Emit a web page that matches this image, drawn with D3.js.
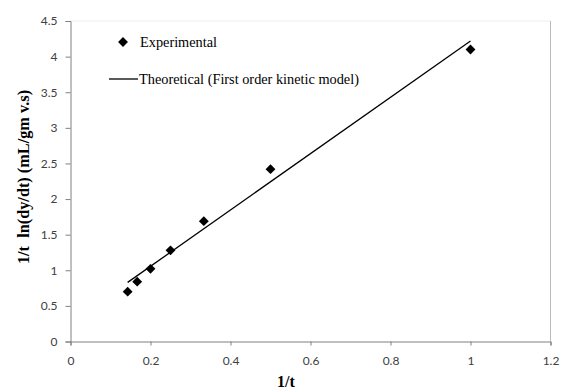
<!DOCTYPE html>
<html><head><meta charset="utf-8">
<script src="https://cdn.jsdelivr.net/npm/d3@7"></script>
<style>body{margin:0;background:#fff}</style>
</head><body>
<svg id="c" width="561" height="389"></svg>
<script>
const invT = [0.1429, 0.1667, 0.2, 0.25, 0.3333, 0.5, 1.0];
const expVals = [0.70, 0.84, 1.02, 1.28, 1.69, 2.42, 4.10];
const theoX = [0.1429, 1.0];
const theoY = [0.83, 4.22];
const xTicks = [0, 0.2, 0.4, 0.6, 0.8, 1, 1.2];
const yTicks = [0, 0.5, 1, 1.5, 2, 2.5, 3, 3.5, 4, 4.5];
const legendLabels = ["Experimental", "Theoretical (First order kinetic model)"];

const svg = d3.select("#c");
const L = 70.5, R = 550.5, T = 21, B = 341.5;
const x = d3.scaleLinear().domain([0, 1.2]).range([L, R]);
const y = d3.scaleLinear().domain([0, 4.5]).range([B, T]);

// frame
svg.append("line").attr("x1", L).attr("x2", R).attr("y1", T).attr("y2", T).attr("stroke", "#eee");
svg.append("line").attr("x1", R).attr("x2", R).attr("y1", T).attr("y2", B).attr("stroke", "#bbb");

const xa = svg.append("g").attr("transform", `translate(0,${B})`)
  .call(d3.axisBottom(x).tickValues(xTicks).tickSize(4).tickPadding(11).tickFormat(d3.format("")));
const ya = svg.append("g").attr("transform", `translate(${L},0)`)
  .call(d3.axisLeft(y).tickValues(yTicks).tickSize(5).tickPadding(8).tickFormat(d3.format("")));
[xa, ya].forEach(a => {
  a.selectAll("path,line").attr("stroke", "#808080");
  a.selectAll("text").attr("fill", "#404040").style("font-family", "Lato, 'Open Sans', sans-serif").style("font-size", "12px");
});

// theoretical line
svg.append("path").datum(theoX.map((d, i) => [d, theoY[i]]))
  .attr("d", d3.line().x(d => x(d[0])).y(d => y(d[1])))
  .attr("stroke", "#000").attr("stroke-width", 1.3).attr("fill", "none");

// experimental points
const diamond = d3.symbol().type(d3.symbolDiamond2).size(62);
svg.selectAll(".pt").data(invT).enter().append("path")
  .attr("transform", (d, i) => `translate(${x(d)},${y(expVals[i])})`)
  .attr("d", diamond).attr("fill", "#000");

// legend
svg.append("path").attr("transform", "translate(123,42)").attr("d", diamond).attr("fill", "#000");
svg.append("text").attr("x", 140).attr("y", 47).text(legendLabels[0])
  .style("font-family", "'Liberation Serif', serif").style("font-size", "14.3px");
svg.append("line").attr("x1", 109).attr("x2", 138).attr("y1", 79).attr("y2", 79).attr("stroke", "#000").attr("stroke-width", 1.3);
svg.append("text").attr("x", 139).attr("y", 84).text(legendLabels[1])
  .style("font-family", "'Liberation Serif', serif").style("font-size", "14.3px");

// titles
svg.append("text").attr("x", 286).attr("y", 387).attr("text-anchor", "middle").text("1/t")
  .style("font-family", "'Liberation Serif', serif").style("font-size", "16px").style("font-weight", "bold");
svg.append("text").attr("transform", "translate(29,177) rotate(-90)").attr("text-anchor", "middle")
  .text("1/t  ln(dy/dt) (mL/gm v.s)")
  .style("font-family", "'Liberation Serif', serif").style("font-size", "16.3px").style("font-weight", "bold")
  .style("white-space", "pre").attr("xml:space", "preserve");
</script>
</body></html>
